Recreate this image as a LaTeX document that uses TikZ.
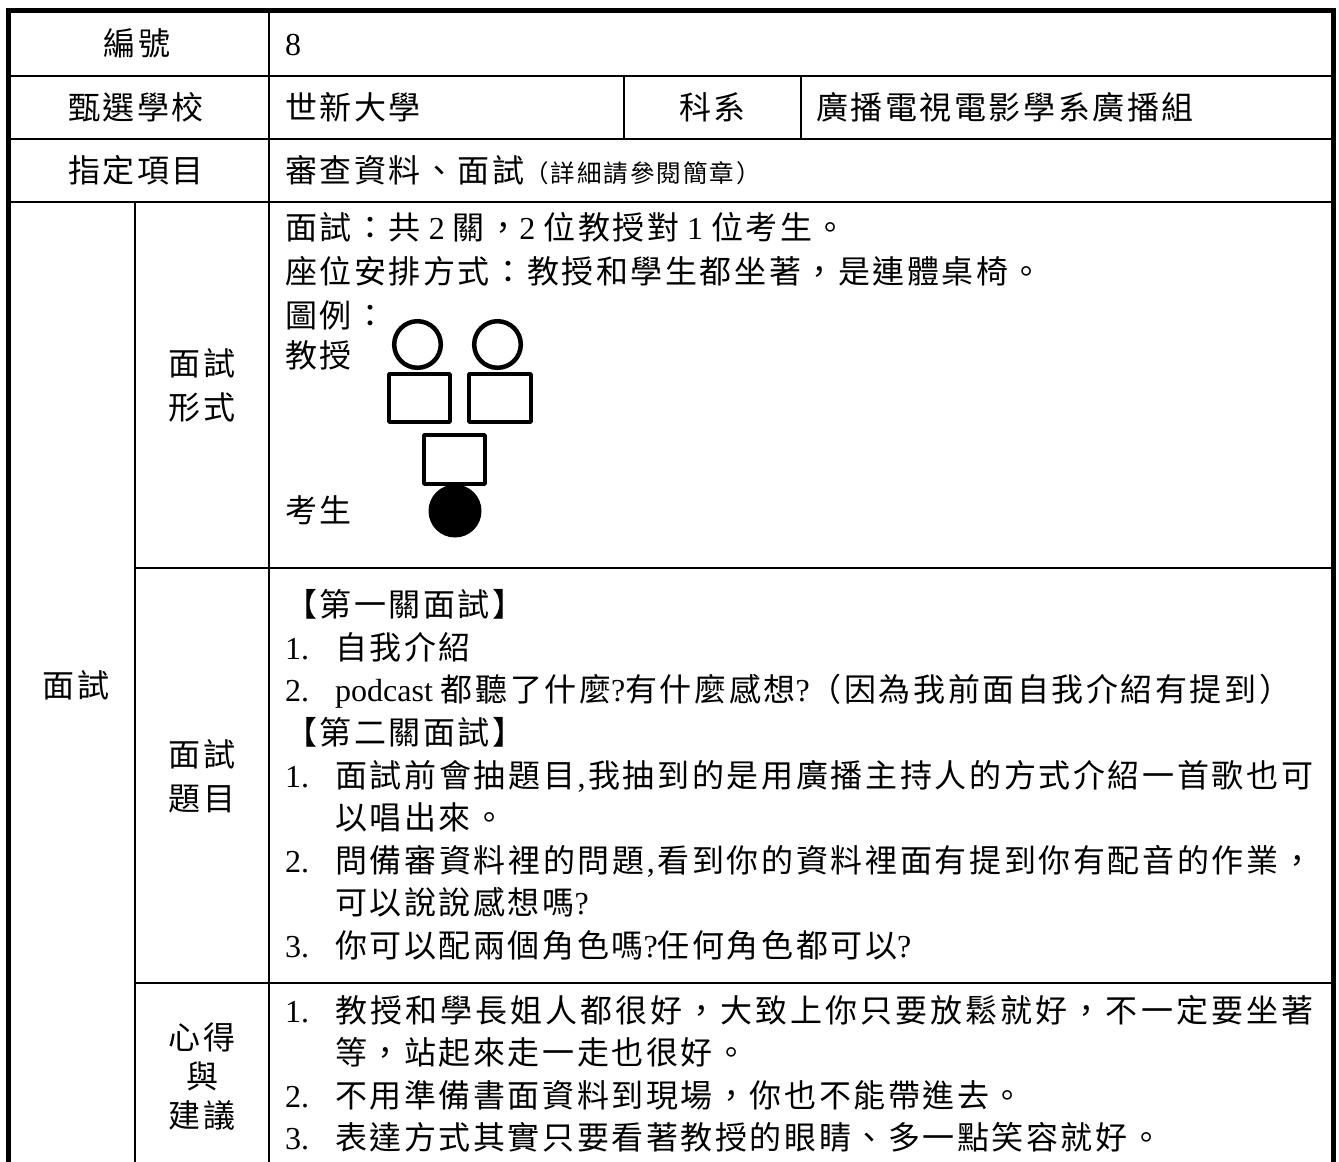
\documentclass[tikz,border=0pt]{standalone}
\usepackage{fontspec}
\setmainfont{Liberation Serif}
\newfontfamily\cjk[LetterSpace=8]{Noto Sans CJK TC}
\newfontfamily\lat{Liberation Serif}
\makeatletter
\def\jst@end{\jst@end}
\def\jst@first#1{{#1}\jst@rest}
\def\jst@rest#1{\ifx\jst@end#1\else\hfil{#1}\expandafter\jst@rest\fi}
\newcommand\jline[1]{\makebox[978pt][s]{\jst@first#1\jst@end}}
\makeatother
\tikzset{
  txt/.style={anchor=base west, inner sep=0pt, font=\fontsize{32}{37}\cjk},
  lbl/.style={anchor=base, inner sep=0pt, font=\fontsize{32}{37}\cjk},
  mlbl/.style={anchor=center, inner sep=0pt, align=center, font=\fontsize{32}{44}\cjk},
  grid/.style={line width=2.3pt},
  outer/.style={line width=5.5pt},
  fig/.style={line width=4.5pt, line join=round},
}
\begin{document}
\begin{tikzpicture}[x=1pt, y=-1pt]
\useasboundingbox (0,0) rectangle (1339,1162);
\clip (0,0) rectangle (1339,1162);
\fill[white] (0,0) rectangle (1339,1162);
% table lines
\draw[grid] (8.5,76) -- (1333.5,76);
\draw[grid] (8.5,139) -- (1333.5,139);
\draw[grid] (8.5,202) -- (1333.5,202);
\draw[grid] (135,568) -- (1333.5,568);
\draw[grid] (135,983) -- (1333.5,983);
\draw[grid] (269,10.5) -- (269,1175);
\draw[grid] (135,202) -- (135,1175);
\draw[grid] (624,76) -- (624,139);
\draw[grid] (801,76) -- (801,139);
\draw[outer] (8.5,1175) -- (8.5,10.5) -- (1333.5,10.5) -- (1333.5,1175);
% header rows
\node[lbl] (l1) at (137,55) {編號};
\node[txt] (v1) at (285,55) {\lat 8};
\node[lbl] (l2) at (136,119.5) {甄選學校};
\node[txt] (v2) at (285,119.5) {世新大學};
\node[lbl] (l2b) at (712.5,119.5) {科系};
\node[txt] (v2b) at (816,119.5) {廣播電視電影學系廣播組};
\node[lbl] (l3) at (136,182.5) {指定項目};
\node[txt] (v3) at (285,182.5) {審查資料、面試{\fontsize{24.5}{24.5}\cjk （詳細請參閱簡章）}};
% side labels
\node[lbl] (lm) at (76,697) {面試};
\node[mlbl] (lf) at (202,385) {面試\\形式};
\node[mlbl] (lq) at (202,776.5) {面試\\題目};
\node[mlbl, font=\fontsize{32}{39}\cjk] (ls) at (202,1076) {心得\\與\\建議};
% form section
\node[txt] (f1) at (285,239) {面試：共{\lat\ 2\ }關，{\lat 2\ }位教授對{\lat\ 1\ }位考生。};
\node[txt] (f2) at (285,283) {座位安排方式：教授和學生都坐著，是連體桌椅。};
\node[txt] (f3) at (285,327) {圖例：};
\node[txt] (f4) at (285,367) {教授};
\node[txt] (f5) at (285,522) {考生};
% legend figure
\draw[fig] (417.5,344.5) circle (23.3);
\draw[fig] (497.5,344.5) circle (23.3);
\draw[fig] (389.2,374.2) rectangle (449.8,421.8);
\draw[fig] (469.2,374.2) rectangle (530.8,421.8);
\draw[fig] (424.2,435.2) rectangle (484.8,483.8);
\fill (455,511) circle (26.5);
% questions
\node[txt] (q0) at (285,616) {【第一關面試】};
\node[txt] (q1n) at (285,659) {\lat 1.};
\node[txt] (q1) at (335,659) {自我介紹};
\node[txt] (q2n) at (285,701) {\lat 2.};
\node[txt] (q2) at (335,701) {{\lat podcast\ }都聽了什麼{\lat ?}有什麼感想{\lat ?}（因為我前面自我介紹有提到）};
\node[txt] (q3) at (285,744) {【第二關面試】};
\node[txt] (q4n) at (285,787) {\lat 1.};
\node[txt] (q4) at (335,787) {\jline{面試前會抽題目{\lat ,}我抽到的是用廣播主持人的方式介紹一首歌也可}};
\node[txt] (q4b) at (335,829) {以唱出來。};
\node[txt] (q5n) at (285,872) {\lat 2.};
\node[txt] (q5) at (335,872) {\jline{問備審資料裡的問題{\lat ,}看到你的資料裡面有提到你有配音的作業，}};
\node[txt] (q5b) at (335,914) {可以說說感想嗎{\lat ?}};
\node[txt] (q6n) at (285,957) {\lat 3.};
\node[txt] (q6) at (335,957) {你可以配兩個角色嗎{\lat ?}任何角色都可以{\lat ?}};
% suggestions
\node[txt] (s1n) at (285,1022) {\lat 1.};
\node[txt] (s1) at (335,1022) {\jline{教授和學長姐人都很好，大致上你只要放鬆就好，不一定要坐著}};
\node[txt] (s1b) at (335,1064) {等，站起來走一走也很好。};
\node[txt] (s2n) at (285,1107) {\lat 2.};
\node[txt] (s2) at (335,1107) {不用準備書面資料到現場，你也不能帶進去。};
\node[txt] (s3n) at (285,1149) {\lat 3.};
\node[txt] (s3) at (335,1149) {表達方式其實只要看著教授的眼睛、多一點笑容就好。};
\end{tikzpicture}
\end{document}
